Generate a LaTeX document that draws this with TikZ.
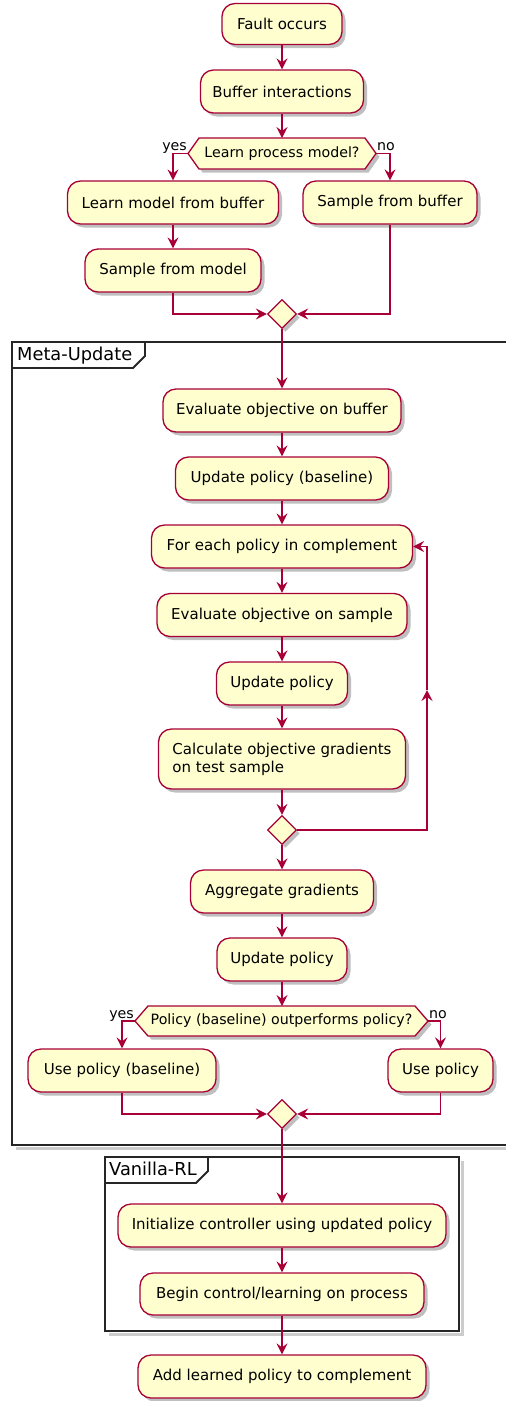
\documentclass[tikz,border=0pt]{standalone}
\usepackage{fontspec}
\setmainfont{DejaVu Sans}
\usetikzlibrary{arrows.meta,shapes.geometric,shadows}
\definecolor{pfill}{HTML}{FEFECE}
\definecolor{pline}{HTML}{A80036}
\begin{document}
\begin{tikzpicture}[x=1pt,y=-1pt,
  shad/.style={drop shadow={shadow xshift=3.5pt,shadow yshift=-3.5pt,opacity=0.25,fill=black}},
  act/.style={shad, draw=pline, fill=pfill, line width=1.3pt, rounded corners=13pt,
    inner sep=0pt, minimum height=43pt, font=\fontsize{15}{18}\selectfont},
  mergenode/.style={shad, diamond, draw=pline, fill=pfill, line width=1.3pt,
    minimum width=29pt, minimum height=29pt, inner sep=0pt},
  hexs/.style={shad, draw=pline, fill=pfill, line width=1.3pt},
  dtext/.style={inner sep=0pt, font=\fontsize{14.2}{17}\selectfont},
  lbl/.style={inner sep=0pt, font=\fontsize{14.2}{17}\selectfont},
  flow/.style={draw=pline, line width=1.3pt, -{Stealth[length=11pt,width=11pt,inset=4pt]}},
  frame/.style={draw=black!85, line width=1.8pt},
  frameshadow/.style={draw=black, opacity=0.2, line width=3pt},
  flabel/.style={inner sep=0pt, font=\fontsize{17.8}{20}\selectfont}
]
\useasboundingbox (0,0) rectangle (506,1401);
\clip (0,0) rectangle (506,1401);

% ---------- frames ----------
\draw[frameshadow] (16,1148) -- (512,1148);
\draw[frame] (12,342) rectangle (512,1145);
\draw[frame] (12,368) -- (133,368) -- (145,356) -- (145,342);
\node[flabel, anchor=base west] (mlab) at (17,360.5) {Meta-Update};

\draw[frameshadow] (109,1334.5) -- (462.5,1334.5) -- (462.5,1161);
\draw[frame] (105,1157) rectangle (459,1331);
\draw[frame] (105,1183) -- (196,1183) -- (208,1171) -- (208,1157);
\node[flabel, anchor=base west] (vlab) at (109,1175) {Vanilla-RL};

% ---------- nodes ----------
\node[act, minimum width=120pt, minimum height=41pt] (fault) at (282,24) {Fault occurs};
\node[act, minimum width=163pt] (buffer) at (282,91.5) {Buffer interactions};

\path[hexs] (188,153.5) -- (199,138) -- (365,138) -- (376,153.5) -- (365,169) -- (199,169) -- cycle;
\coordinate (d1n) at (282,138);
\coordinate (d1w) at (188,153.5);
\coordinate (d1e) at (376,153.5);
\node[dtext] (d1) at (282,153.5) {Learn process model?};
\node[lbl, anchor=base east] (yes1) at (187,150.5) {yes};
\node[lbl, anchor=base west] (no1) at (377,150.5) {no};

\node[act, minimum width=211pt] (learn) at (173,202.5) {Learn model from buffer};
\node[act, minimum width=174pt] (sbuf) at (390,202.5) {Sample from buffer};
\node[act, minimum width=176pt] (smod) at (173,270.5) {Sample from model};
\node[mergenode] (m1) at (282,314) {};

\node[act, minimum width=238pt] (evb) at (282,410.5) {Evaluate objective on buffer};
\node[act, minimum width=213pt] (ub) at (282,478.5) {Update policy (baseline)};
\node[act, minimum width=261pt] (fe) at (282,546.5) {For each policy in complement};
\node[act, minimum width=250pt] (evs) at (282,615) {Evaluate objective on sample};
\node[act, minimum width=131pt] (up1) at (282,683.5) {Update policy};
\node[act, minimum width=247pt, minimum height=60pt, align=left] (calc) at (282,759)
  {Calculate objective gradients\\on test sample};
\node[mergenode] (m2) at (282,830) {};
\coordinate (lp) at (427,690);

\node[act, minimum width=183pt] (agg) at (282,891.5) {Aggregate gradients};
\node[act, minimum width=130pt] (up2) at (282,959.5) {Update policy};

\path[hexs] (135,1021) -- (148,1006) -- (415,1006) -- (428,1021) -- (415,1036) -- (148,1036) -- cycle;
\coordinate (d2n) at (282,1006);
\coordinate (d2w) at (135,1021);
\coordinate (d2e) at (428,1021);
\node[dtext] (d2) at (281.5,1021) {Policy (baseline) outperforms policy?};
\node[lbl, anchor=base east] (yes2) at (134,1018) {yes};
\node[lbl, anchor=base west] (no2) at (429,1018) {no};

\node[act, minimum width=188pt] (usb) at (122,1070.5) {Use policy (baseline)};
\node[act, minimum width=105pt] (usp) at (440.5,1070.5) {Use policy};
\node[mergenode] (m3) at (282,1114) {};

\node[act, minimum width=328pt] (init) at (282,1225.5) {Initialize controller using updated policy};
\node[act, minimum width=284pt, minimum height=42pt] (begin) at (282,1294) {Begin control/learning on process};
\node[act, minimum width=288pt] (add) at (282,1376.5) {Add learned policy to complement};

% ---------- connectors ----------
\draw[flow] (fault) -- (buffer);
\draw[flow] (buffer) -- (d1n);
\draw[flow] (d1w) -| (learn.north);
\draw[flow] (d1e) -| (sbuf.north);
\draw[flow] (learn) -- (smod);
\draw[flow] (smod.south) |- (m1.west);
\draw[flow] (sbuf.south) |- (m1.east);
\draw[flow] (m1) -- (evb);
\draw[flow] (evb) -- (ub);
\draw[flow] (ub) -- (fe);
\draw[flow] (fe) -- (evs);
\draw[flow] (evs) -- (up1);
\draw[flow] (up1) -- (calc);
\draw[flow] (calc) -- (m2);
\draw[flow] (m2.east) -| (lp);
\draw[flow] (lp) |- (fe.east);
\draw[flow] (m2) -- (agg);
\draw[flow] (agg) -- (up2);
\draw[flow] (up2) -- (d2n);
\draw[flow] (d2w) -| (usb.north);
\draw[flow] (d2e) -| (usp.north);
\draw[flow] (usb.south) |- (m3.west);
\draw[flow] (usp.south) |- (m3.east);
\draw[flow] (m3) -- (init);
\draw[flow] (init) -- (begin);
\draw[flow] (begin) -- (add);
\end{tikzpicture}
\end{document}
